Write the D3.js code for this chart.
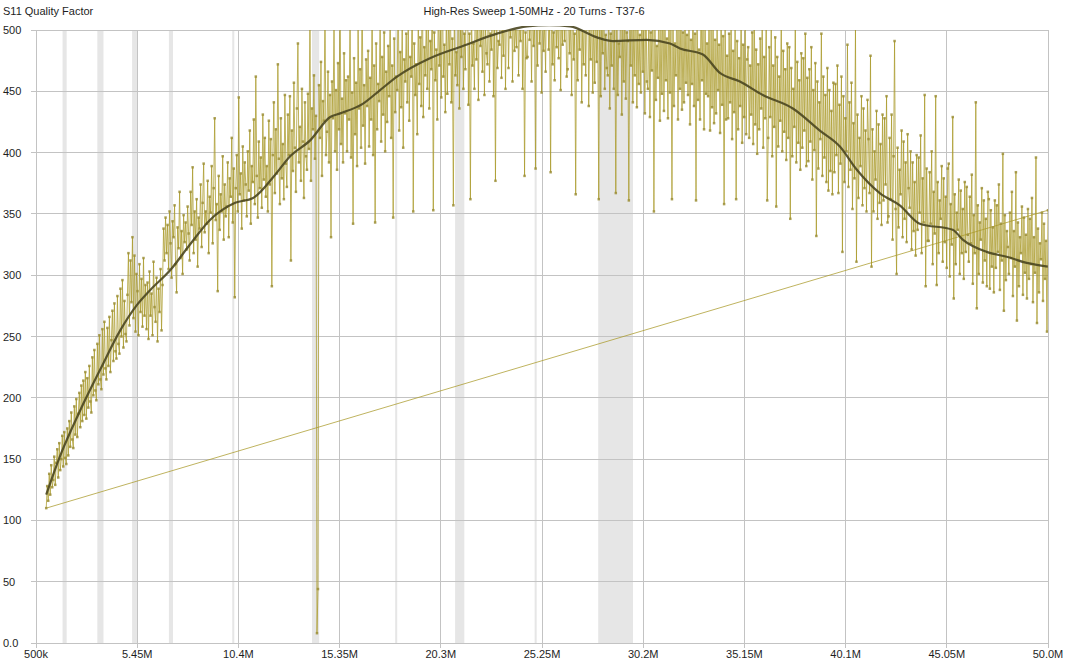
<!DOCTYPE html>
<html>
<head>
<meta charset="UTF-8">
<title>High-Res Sweep 1-50MHz - 20 Turns - T37-6</title>
<script src="https://d3js.org/d3.v7.min.js"></script>
<style>
  body { margin: 0; background: #fff; }
  svg text { font-family: "Liberation Sans", Arial, sans-serif; font-size: 11px; fill: #1e1e1e; }
</style>
</head>
<body>
<div id="chart"></div>
<script>
// sweep settings (linear sweep, one Q reading per step)
var sweepStartHz = 1e6;
var sweepStopHz = 50e6;

// S11 quality factor readings, 20 per row (~1 MHz per row)
var qValues = [
  110, 128, 116, 138, 121, 145, 127, 133, 152, 129, 147, 158, 135, 163, 141, 150, 169, 144, 172, 151,
  146, 175, 153, 181, 160, 188, 166, 159, 193, 170, 199, 168, 187, 204, 176, 210, 181, 214, 186, 221,
  183, 216, 192, 226, 197, 188, 233, 202, 239, 206, 198, 244, 211, 251, 215, 207, 256, 219, 262, 224,
  215, 257, 226, 266, 221, 247, 271, 230, 277, 238, 232, 283, 244, 236, 289, 250, 296, 241, 279, 252,
  246, 284, 318, 259, 312, 278, 331, 265, 316, 254, 301, 287, 251, 309, 270, 297, 258, 314, 267, 292,
  256, 294, 248, 303, 267, 285, 251, 311, 274, 262, 298, 246, 289, 270, 305, 255, 292, 338, 312, 347,
  318, 341, 305, 352, 326, 298, 344, 331, 357, 309, 286, 339, 322, 368, 314, 336, 301, 349, 327, 343,
  321, 356, 334, 312, 368, 341, 388, 318, 352, 329, 362, 307, 347, 338, 374, 323, 359, 391, 335, 352,
  342, 377, 318, 364, 351, 389, 326, 371, 428, 345, 358, 287, 381, 337, 366, 352, 397, 329, 374, 348,
  356, 392, 331, 379, 364, 412, 343, 387, 282, 371, 398, 352, 445, 366, 383, 338, 405, 361, 392, 374,
  348, 401, 369, 418, 342, 389, 376, 427, 358, 462, 381, 347, 409, 371, 396, 355, 431, 378, 412, 364,
  389, 352, 426, 374, 411, 291, 398, 441, 367, 419, 383, 472, 395, 358, 428, 379, 407, 362, 447, 391,
  372, 431, 398, 446, 312, 418, 385, 457, 404, 368, 436, 489, 392, 421, 377, 452, 409, 363, 441, 397,
  386, 448, 403, 512, 377, 436, 419, 463, 395, 430, 8, 44, 455, 412, 474, 381, 442, 426, 521, 398,
  417, 466, 392, 447, 331, 458, 428, 504, 401, 451, 386, 473, 419, 536, 407, 444, 392, 481, 432, 459,
  401, 462, 427, 518, 396, 449, 342, 477, 415, 457, 389, 502, 436, 468, 404, 541, 422, 455, 391, 476,
  438, 483, 405, 461, 427, 527, 398, 471, 343, 489, 419, 456, 442, 514, 409, 478, 431, 498, 401, 466,
  425, 487, 446, 519, 412, 471, 347, 493, 433, 462, 451, 545, 418, 482, 437, 506, 404, 476, 458, 497,
  441, 503, 426, 478, 462, 531, 352, 489, 447, 472, 415, 512, 456, 494, 438, 558, 429, 486, 463, 507,
  452, 517, 436, 491, 468, 542, 353, 498, 459, 484, 427, 526, 471, 503, 445, 549, 462, 488, 433, 515,
  448, 509, 472, 536, 441, 493, 357, 521, 463, 482, 455, 547, 436, 501, 478, 528, 452, 497, 468, 553,
  556, 439, 497, 362, 518, 471, 489, 452, 541, 476, 511, 443, 532, 487, 502, 466, 527, 447, 504, 481,
  472, 538, 458, 497, 484, 549, 446, 512, 377, 526, 469, 491, 488, 557, 461, 508, 479, 534, 452, 519,
  538, 469, 511, 494, 553, 458, 527, 483, 504, 486, 541, 463, 507, 491, 562, 452, 522, 381, 498, 477,
  478, 546, 492, 515, 458, 537, 487, 503, 387, 528, 471, 559, 489, 512, 449, 534, 483, 506, 466, 548,
  551, 484, 506, 384, 539, 472, 498, 459, 544, 486, 513, 477, 562, 451, 521, 488, 535, 491, 527, 462,
  468, 532, 481, 509, 447, 548, 476, 497, 366, 527, 459, 514, 484, 553, 441, 505, 472, 538, 463, 519,
  547, 438, 508, 476, 528, 449, 514, 457, 524, 474, 501, 362, 539, 446, 512, 481, 533, 452, 496, 469,
  463, 518, 436, 497, 471, 541, 452, 506, 367, 526, 447, 489, 478, 534, 431, 511, 458, 523, 444, 498,
  491, 361, 516, 471, 532, 441, 508, 463, 545, 437, 512, 456, 496, 449, 527, 466, 503, 432, 539, 458,
  452, 514, 429, 498, 467, 536, 352, 507, 443, 487, 461, 529, 426, 503, 448, 541, 434, 511, 459, 493,
  428, 534, 449, 508, 362, 517, 438, 489, 463, 543, 427, 502, 452, 526, 435, 498, 441, 522, 457, 496,
  447, 511, 423, 492, 456, 528, 438, 497, 361, 519, 443, 484, 427, 532, 459, 505, 419, 514, 448, 489,
  446, 527, 418, 501, 437, 515, 424, 492, 432, 506, 451, 488, 416, 523, 439, 495, 358, 511, 427, 479,
  428, 497, 441, 514, 411, 483, 433, 506, 362, 491, 419, 477, 438, 521, 408, 488, 429, 503, 415, 476,
  486, 412, 471, 431, 498, 407, 526, 423, 484, 399, 472, 419, 493, 436, 509, 404, 478, 428, 517, 361,
  412, 486, 429, 503, 397, 471, 421, 494, 356, 478, 405, 462, 426, 512, 401, 483, 417, 468, 394, 489,
  412, 486, 346, 469, 397, 452, 421, 508, 392, 474, 408, 459, 386, 481, 404, 477, 418, 497, 389, 461,
  393, 468, 409, 486, 378, 451, 402, 473, 332, 458, 387, 441, 411, 497, 381, 462, 396, 447, 376, 469,
  369, 451, 385, 434, 366, 457, 384, 456, 398, 471, 367, 439, 391, 462, 319, 446, 376, 428, 401, 488,
  372, 441, 386, 457, 354, 424, 379, 502, 311, 431, 363, 412, 389, 446, 357, 436, 371, 418, 352, 443,
  411, 367, 479, 307, 419, 352, 401, 378, 434, 346, 423, 359, 407, 341, 431, 361, 428, 374, 446, 343,
  348, 412, 362, 431, 329, 397, 491, 354, 301, 404, 339, 386, 366, 418, 331, 409, 346, 392, 327, 415,
  371, 355, 401, 321, 392, 336, 376, 316, 398, 337, 396, 351, 414, 318, 379, 343, 447, 291, 387, 328,
  328, 384, 342, 401, 309, 368, 334, 446, 292, 376, 318, 361, 346, 389, 311, 379, 327, 364, 306, 387,
  391, 299, 358, 325, 429, 281, 366, 309, 351, 337, 378, 301, 369, 318, 354, 297, 376, 319, 372, 333,
  311, 364, 326, 382, 293, 349, 318, 441, 273, 357, 301, 343, 329, 371, 294, 361, 312, 346, 291, 368,
  362, 289, 353, 307, 339, 286, 361, 306, 357, 319, 374, 288, 342, 312, 399, 271, 349, 296, 336, 323,
  301, 351, 314, 368, 283, 336, 307, 384, 263, 343, 291, 331, 318, 356, 284, 347, 302, 333, 281, 354,
  297, 346, 309, 363, 278, 331, 302, 396, 261, 338, 286, 326, 313, 351, 279, 342, 297, 328, 254, 353
];

// smoothed trace
var smoothMHz = [1.0, 1.69, 2.67, 3.64, 4.62, 5.45, 6.09, 7.06, 8.03, 9.01, 10.24, 11.12, 12.2, 12.93,
  13.91, 14.89, 15.38, 16.5, 17.33, 18.16, 19.77, 21.38, 23.05, 24.52, 25.6, 26.62, 27.94, 28.72, 30.38,
  31.51, 32.0, 33.12, 33.95, 34.93, 36.05, 37.52, 38.84, 39.82, 40.65, 41.77, 42.75, 43.73, 45.34,
  45.83, 47.0, 47.98, 48.96, 49.99];
var smoothQ = [121, 153, 190, 223, 255, 276, 288, 304, 325, 345, 359, 363, 382, 397,
  410, 429, 432, 440, 451, 462, 477, 487, 497, 503, 504, 503, 494, 491, 492,
  489, 485, 480, 465, 458, 447, 436, 418, 405, 386, 367, 357, 342, 337,
  329, 319, 315, 310, 307];

// amateur radio bands shaded on the plot (MHz)
var bandStart = [1.8, 3.5, 5.2, 7.0, 10.1, 14.0, 18.068, 21.0, 24.89, 28.0];
var bandEnd   = [2.0, 3.8, 5.45, 7.2, 10.15, 14.35, 18.168, 21.45, 24.99, 29.7];

var xTicksHz = [0.5e6, 5.45e6, 10.4e6, 15.35e6, 20.3e6, 25.25e6, 30.2e6, 35.15e6, 40.1e6, 45.05e6, 50.0e6];
var xTickLabels = ["500k", "5.45M", "10.4M", "15.35M", "20.3M", "25.25M", "30.2M", "35.15M", "40.1M", "45.05M", "50.0M"];
var yTicks = [0, 50, 100, 150, 200, 250, 300, 350, 400, 450, 500];
var yTickLabels = ["0.0", "50", "100", "150", "200", "250", "300", "350", "400", "450", "500"];

var chartTitle = "High-Res Sweep 1-50MHz - 20 Turns - T37-6";
var yTitle = "S11 Quality Factor";

// layout
var W = 1068, H = 662;
var margin = {top: 30, right: 20, bottom: 19, left: 36};

var svg = d3.select("#chart").append("svg")
  .attr("width", W)
  .attr("height", H);

var x = d3.scaleLinear().domain([0.5e6, 50e6]).range([margin.left, W - margin.right]);
var y = d3.scaleLinear().domain([0, 500]).range([H - margin.bottom, margin.top]);

var step = (sweepStopHz - sweepStartHz) / (qValues.length - 1);
var sweep = qValues.map(function (q, i) { return {f: sweepStartHz + i * step, q: q}; });
var smooth = smoothMHz.map(function (m, i) { return {f: m * 1e6, q: smoothQ[i]}; });

svg.append("clipPath").attr("id", "plotclip")
  .append("rect")
  .attr("x", margin.left).attr("y", margin.top)
  .attr("width", W - margin.left - margin.right)
  .attr("height", H - margin.top - margin.bottom);

svg.append("clipPath").attr("id", "smoothclip")
  .append("rect")
  .attr("x", margin.left).attr("y", margin.top - 4)
  .attr("width", W - margin.left - margin.right)
  .attr("height", H - margin.top - margin.bottom + 4);

// band shading
svg.append("g").selectAll("rect")
  .data(bandStart)
  .join("rect")
  .attr("x", function (d) { return x(d * 1e6); })
  .attr("y", margin.top)
  .attr("width", function (d, i) { return Math.max(2, x(bandEnd[i] * 1e6) - x(d * 1e6)); })
  .attr("height", H - margin.top - margin.bottom)
  .attr("fill", "#e6e6e6");

// grid
var grid = svg.append("g").attr("stroke", "#c3c3c3").attr("stroke-width", 1).attr("shape-rendering", "crispEdges");
grid.selectAll(".vx").data(xTicksHz).join("line")
  .attr("x1", function (d) { return x(d); }).attr("x2", function (d) { return x(d); })
  .attr("y1", margin.top).attr("y2", H - margin.bottom + 5);
grid.selectAll(".hy").data(yTicks).join("line")
  .attr("x1", margin.left - 5).attr("x2", W - margin.right)
  .attr("y1", function (d) { return y(d); }).attr("y2", function (d) { return y(d); });

// tick labels
svg.append("g").selectAll("text").data(xTicksHz).join("text")
  .attr("x", function (d) { return x(d); })
  .attr("y", H - 4)
  .attr("text-anchor", "middle")
  .text(function (d, i) { return xTickLabels[i]; });

svg.append("g").selectAll("text").data(yTicks).join("text")
  .attr("x", 3)
  .attr("y", function (d) { return y(d) + 4; })
  .text(function (d, i) { return yTickLabels[i]; });

svg.append("text").attr("x", 3).attr("y", 15).text(yTitle);
svg.append("text").attr("x", 534).attr("y", 15).attr("text-anchor", "middle").text(chartTitle);

var plot = svg.append("g").attr("clip-path", "url(#plotclip)");

var line = d3.line()
  .x(function (d) { return x(d.f); })
  .y(function (d) { return y(d.q); });

// sweep trace, closed back to the first reading
plot.append("path")
  .datum(sweep.concat([sweep[0]]))
  .attr("d", line)
  .attr("fill", "none")
  .attr("stroke", "#a99a2a")
  .attr("stroke-opacity", 0.75)
  .attr("stroke-width", 1);

plot.append("g").selectAll("rect")
  .data(sweep)
  .join("rect")
  .attr("x", function (d) { return x(d.f) - 1.25; })
  .attr("y", function (d) { return y(d.q) - 1.25; })
  .attr("width", 2.5)
  .attr("height", 2.5)
  .attr("fill", "#9c8f38")
  .attr("fill-opacity", 0.85);

svg.append("path")
  .datum(smooth)
  .attr("clip-path", "url(#smoothclip)")
  .attr("d", line.curve(d3.curveMonotoneX))
  .attr("fill", "none")
  .attr("stroke", "#4a4620")
  .attr("stroke-opacity", 0.9)
  .attr("stroke-width", 2.2);
</script>
</body>
</html>
